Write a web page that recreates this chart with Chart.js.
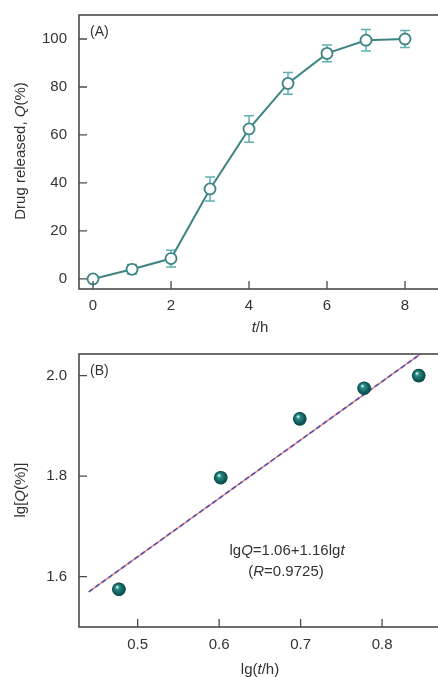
<!DOCTYPE html>
<html>
<head>
<meta charset="utf-8">
<script src="https://cdn.jsdelivr.net/npm/chart.js@4.4.1/dist/chart.umd.min.js"></script>
<style>
  html, body { margin: 0; padding: 0; background: #fff; overflow: hidden; width: 438px; height: 677px; }
  .box { position: absolute; left: 0; width: 450px; }
  #boxA { top: 0; height: 338px; }
  #boxB { top: 338px; height: 339px; }
</style>
</head>
<body>
<div class="box" id="boxA"><canvas id="chartA"></canvas></div>
<div class="box" id="boxB"><canvas id="chartB"></canvas></div>
<script>
// Panel A: release profile
var timeH = [0, 1, 2, 3, 4, 5, 6, 7, 8];
var releasedQ = [0, 4, 8.5, 37.5, 62.5, 81.5, 94, 99.5, 100];
var releasedErr = [1, 2, 3.5, 5, 5.5, 4.5, 3.5, 4.5, 3.5];
var xTicksA = [0, 2, 4, 6, 8];
var yTicksA = [0, 20, 40, 60, 80, 100];

// Panel B: log-log fit
var lgT = [0.477, 0.602, 0.699, 0.778, 0.845];
var lgQ = [1.575, 1.797, 1.914, 1.975, 2.0];
var fitLineX = [0.44, 0.86];
var fitLineY = [1.57, 2.058];
var xTicksB = [0.5, 0.6, 0.7, 0.8];
var yTicksB = [1.6, 1.8, 2.0];

var FONT = '"Liberation Sans", Arial, sans-serif';
var TXT = '#333';

// draws text made of runs, some italic
function drawRuns(ctx, runs, x, y, size, align) {
    var total = 0;
    runs.forEach(function(r) {
        ctx.font = (r.i ? 'italic ' : '') + size + 'px ' + FONT;
        r.w = ctx.measureText(r.t).width;
        total += r.w;
    });
    var sx = align === 'center' ? x - total / 2 : x;
    ctx.textBaseline = 'middle';
    ctx.textAlign = 'left';
    runs.forEach(function(r) {
        ctx.font = (r.i ? 'italic ' : '') + size + 'px ' + FONT;
        ctx.fillText(r.t, sx, y);
        sx += r.w;
    });
}

// frame + inward ticks + custom labels
function framePlugin(opts) {
    return {
        id: 'frame',
        afterDraw: function(chart) {
            var ctx = chart.ctx, a = chart.chartArea;
            var xs = chart.scales.x, ys = chart.scales.y;
            ctx.save();
            ctx.strokeStyle = '#4a4a4a';
            ctx.lineWidth = 1.6;
            ctx.strokeRect(a.left, a.top, a.right - a.left, a.bottom - a.top);
            ctx.lineWidth = 1.3;
            ctx.beginPath();
            xs.ticks.forEach(function(t) {
                var px = xs.getPixelForValue(t.value);
                ctx.moveTo(px, a.bottom);
                ctx.lineTo(px, a.bottom - 8);
            });
            ys.ticks.forEach(function(t) {
                var py = ys.getPixelForValue(t.value);
                ctx.moveTo(a.left, py);
                ctx.lineTo(a.left + 8, py);
            });
            ctx.stroke();
            ctx.fillStyle = TXT;
            drawRuns(ctx, [{t: opts.tag}], a.left + 11, a.top + 17, 14, 'left');
            // x title
            drawRuns(ctx, opts.xTitle, 260, opts.xTitleY, 15, 'center');
            // y title rotated
            ctx.save();
            ctx.translate(21, opts.yTitleY);
            ctx.rotate(-Math.PI / 2);
            drawRuns(ctx, opts.yTitle, 0, 0, 15, 'center');
            ctx.restore();
            if (opts.extra) opts.extra(ctx, chart);
            ctx.restore();
        }
    };
}

// error bars for panel A
var errorBarPlugin = {
    id: 'errorBars',
    beforeDatasetsDraw: function(chart) {
        var ctx = chart.ctx, xs = chart.scales.x, ys = chart.scales.y;
        ctx.save();
        ctx.strokeStyle = '#5fb0b0';
        ctx.lineWidth = 1.5;
        ctx.beginPath();
        timeH.forEach(function(t, i) {
            var px = xs.getPixelForValue(t);
            var top = ys.getPixelForValue(releasedQ[i] + releasedErr[i]);
            var bot = ys.getPixelForValue(releasedQ[i] - releasedErr[i]);
            ctx.moveTo(px, top); ctx.lineTo(px, bot);
            ctx.moveTo(px - 5, top); ctx.lineTo(px + 5, top);
            ctx.moveTo(px - 5, bot); ctx.lineTo(px + 5, bot);
        });
        ctx.stroke();
        ctx.restore();
    }
};

// shaded spheres painted over the scatter points of panel B
var spherePlugin = {
    id: 'spheres',
    afterDatasetsDraw: function(chart) {
        var ctx = chart.ctx;
        var meta = chart.getDatasetMeta(1);
        ctx.save();
        meta.data.forEach(function(pt) {
            var px = pt.x, py = pt.y;
            if (!isFinite(px) || !isFinite(py)) return;
            var g = ctx.createRadialGradient(px - 2, py - 2.5, 0.3, px, py, 7);
            g.addColorStop(0, '#d8f2f0');
            g.addColorStop(0.28, '#2a8a86');
            g.addColorStop(0.72, '#0d5e5a');
            g.addColorStop(1, '#0a4542');
            ctx.fillStyle = g;
            ctx.beginPath();
            ctx.arc(px, py, 6.8, 0, Math.PI * 2);
            ctx.fill();
        });
        ctx.restore();
    }
};

function axisBase(ticks, min, max, fit, fmt, pad) {
    return {
        type: 'linear',
        min: min,
        max: max,
        grid: { display: false, drawTicks: false },
        border: { display: false },
        afterBuildTicks: function(scale) {
            scale.ticks = ticks.map(function(v) { return { value: v }; });
        },
        afterFit: fit,
        ticks: {
            color: TXT,
            padding: pad,
            font: { family: FONT, size: 15 },
            callback: fmt || function(v) { return v; }
        }
    };
}

// fixed axis sizes, no label overhang padding
function fixX(h) { return function(s) { s.height = h; s.paddingLeft = 0; s.paddingRight = 0; }; }
function fixY(w) { return function(s) { s.width = w; s.paddingTop = 0; s.paddingBottom = 0; }; }

function fitPoints() {
    return fitLineX.map(function(x, i) { return { x: x, y: fitLineY[i] }; });
}

var chartA = new Chart(document.getElementById('chartA'), {
    type: 'line',
    data: {
        datasets: [{
            data: timeH.map(function(t, i) { return { x: t, y: releasedQ[i] }; }),
            borderColor: '#3d8585',
            borderWidth: 2,
            pointRadius: 5.5,
            pointBackgroundColor: '#ffffff',
            pointBorderColor: '#3d8585',
            pointBorderWidth: 1.8,
            tension: 0
        }]
    },
    options: {
        responsive: true,
        maintainAspectRatio: false,
        animation: false,
        layout: { autoPadding: false, padding: { top: 15, left: 0, right: 6, bottom: 0 } },
        plugins: { legend: { display: false }, tooltip: { enabled: false } },
        scales: {
            x: axisBase(xTicksA, -0.36, 9, fixX(49), null, 8),
            y: axisBase(yTicksA, -4.2, 110, fixY(79), null, 12)
        }
    },
    plugins: [errorBarPlugin, framePlugin({
        tag: '(A)',
        xTitle: [{t: 't', i: true}, {t: '/h'}],
        xTitleY: 328,
        yTitle: [{t: 'Drug released, '}, {t: 'Q', i: true}, {t: '(%)'}],
        yTitleY: 151
    })]
});

var chartB = new Chart(document.getElementById('chartB'), {
    type: 'scatter',
    data: {
        datasets: [{
            type: 'line',
            data: fitPoints(),
            borderColor: '#e88a8a',
            borderWidth: 1.6,
            pointRadius: 0,
            order: 3
        }, {
            data: lgT.map(function(x, i) { return { x: x, y: lgQ[i] }; }),
            pointRadius: 6.5,
            pointBorderWidth: 0,
            pointBackgroundColor: '#0f5f5c',
            order: 1
        }, {
            type: 'line',
            data: fitPoints(),
            borderColor: '#5a4fb0',
            borderWidth: 1.6,
            borderDash: [5, 3],
            pointRadius: 0,
            order: 2
        }]
    },
    options: {
        responsive: true,
        maintainAspectRatio: false,
        animation: false,
        layout: { autoPadding: false, padding: { top: 16, left: 0, right: 6, bottom: 0 } },
        plugins: { legend: { display: false }, tooltip: { enabled: false } },
        scales: {
            x: axisBase(xTicksB, 0.428, 0.876, fixX(50), function(v) { return v.toFixed(1); }, 9),
            y: axisBase(yTicksB, 1.5, 2.043, fixY(79), function(v) { return v.toFixed(1); }, 12)
        }
    },
    plugins: [spherePlugin, framePlugin({
        tag: '(B)',
        xTitle: [{t: 'lg('}, {t: 't', i: true}, {t: '/h)'}],
        xTitleY: 332,
        yTitle: [{t: 'lg['}, {t: 'Q', i: true}, {t: '(%)]'}],
        yTitleY: 152,
        extra: function(ctx) {
            drawRuns(ctx, [{t: 'lg'}, {t: 'Q', i: true}, {t: '=1.06+1.16lg'}, {t: 't', i: true}], 287, 213, 15, 'center');
            drawRuns(ctx, [{t: '('}, {t: 'R', i: true}, {t: '=0.9725)'}], 286, 234, 15, 'center');
        }
    })]
});
</script>
</body>
</html>
